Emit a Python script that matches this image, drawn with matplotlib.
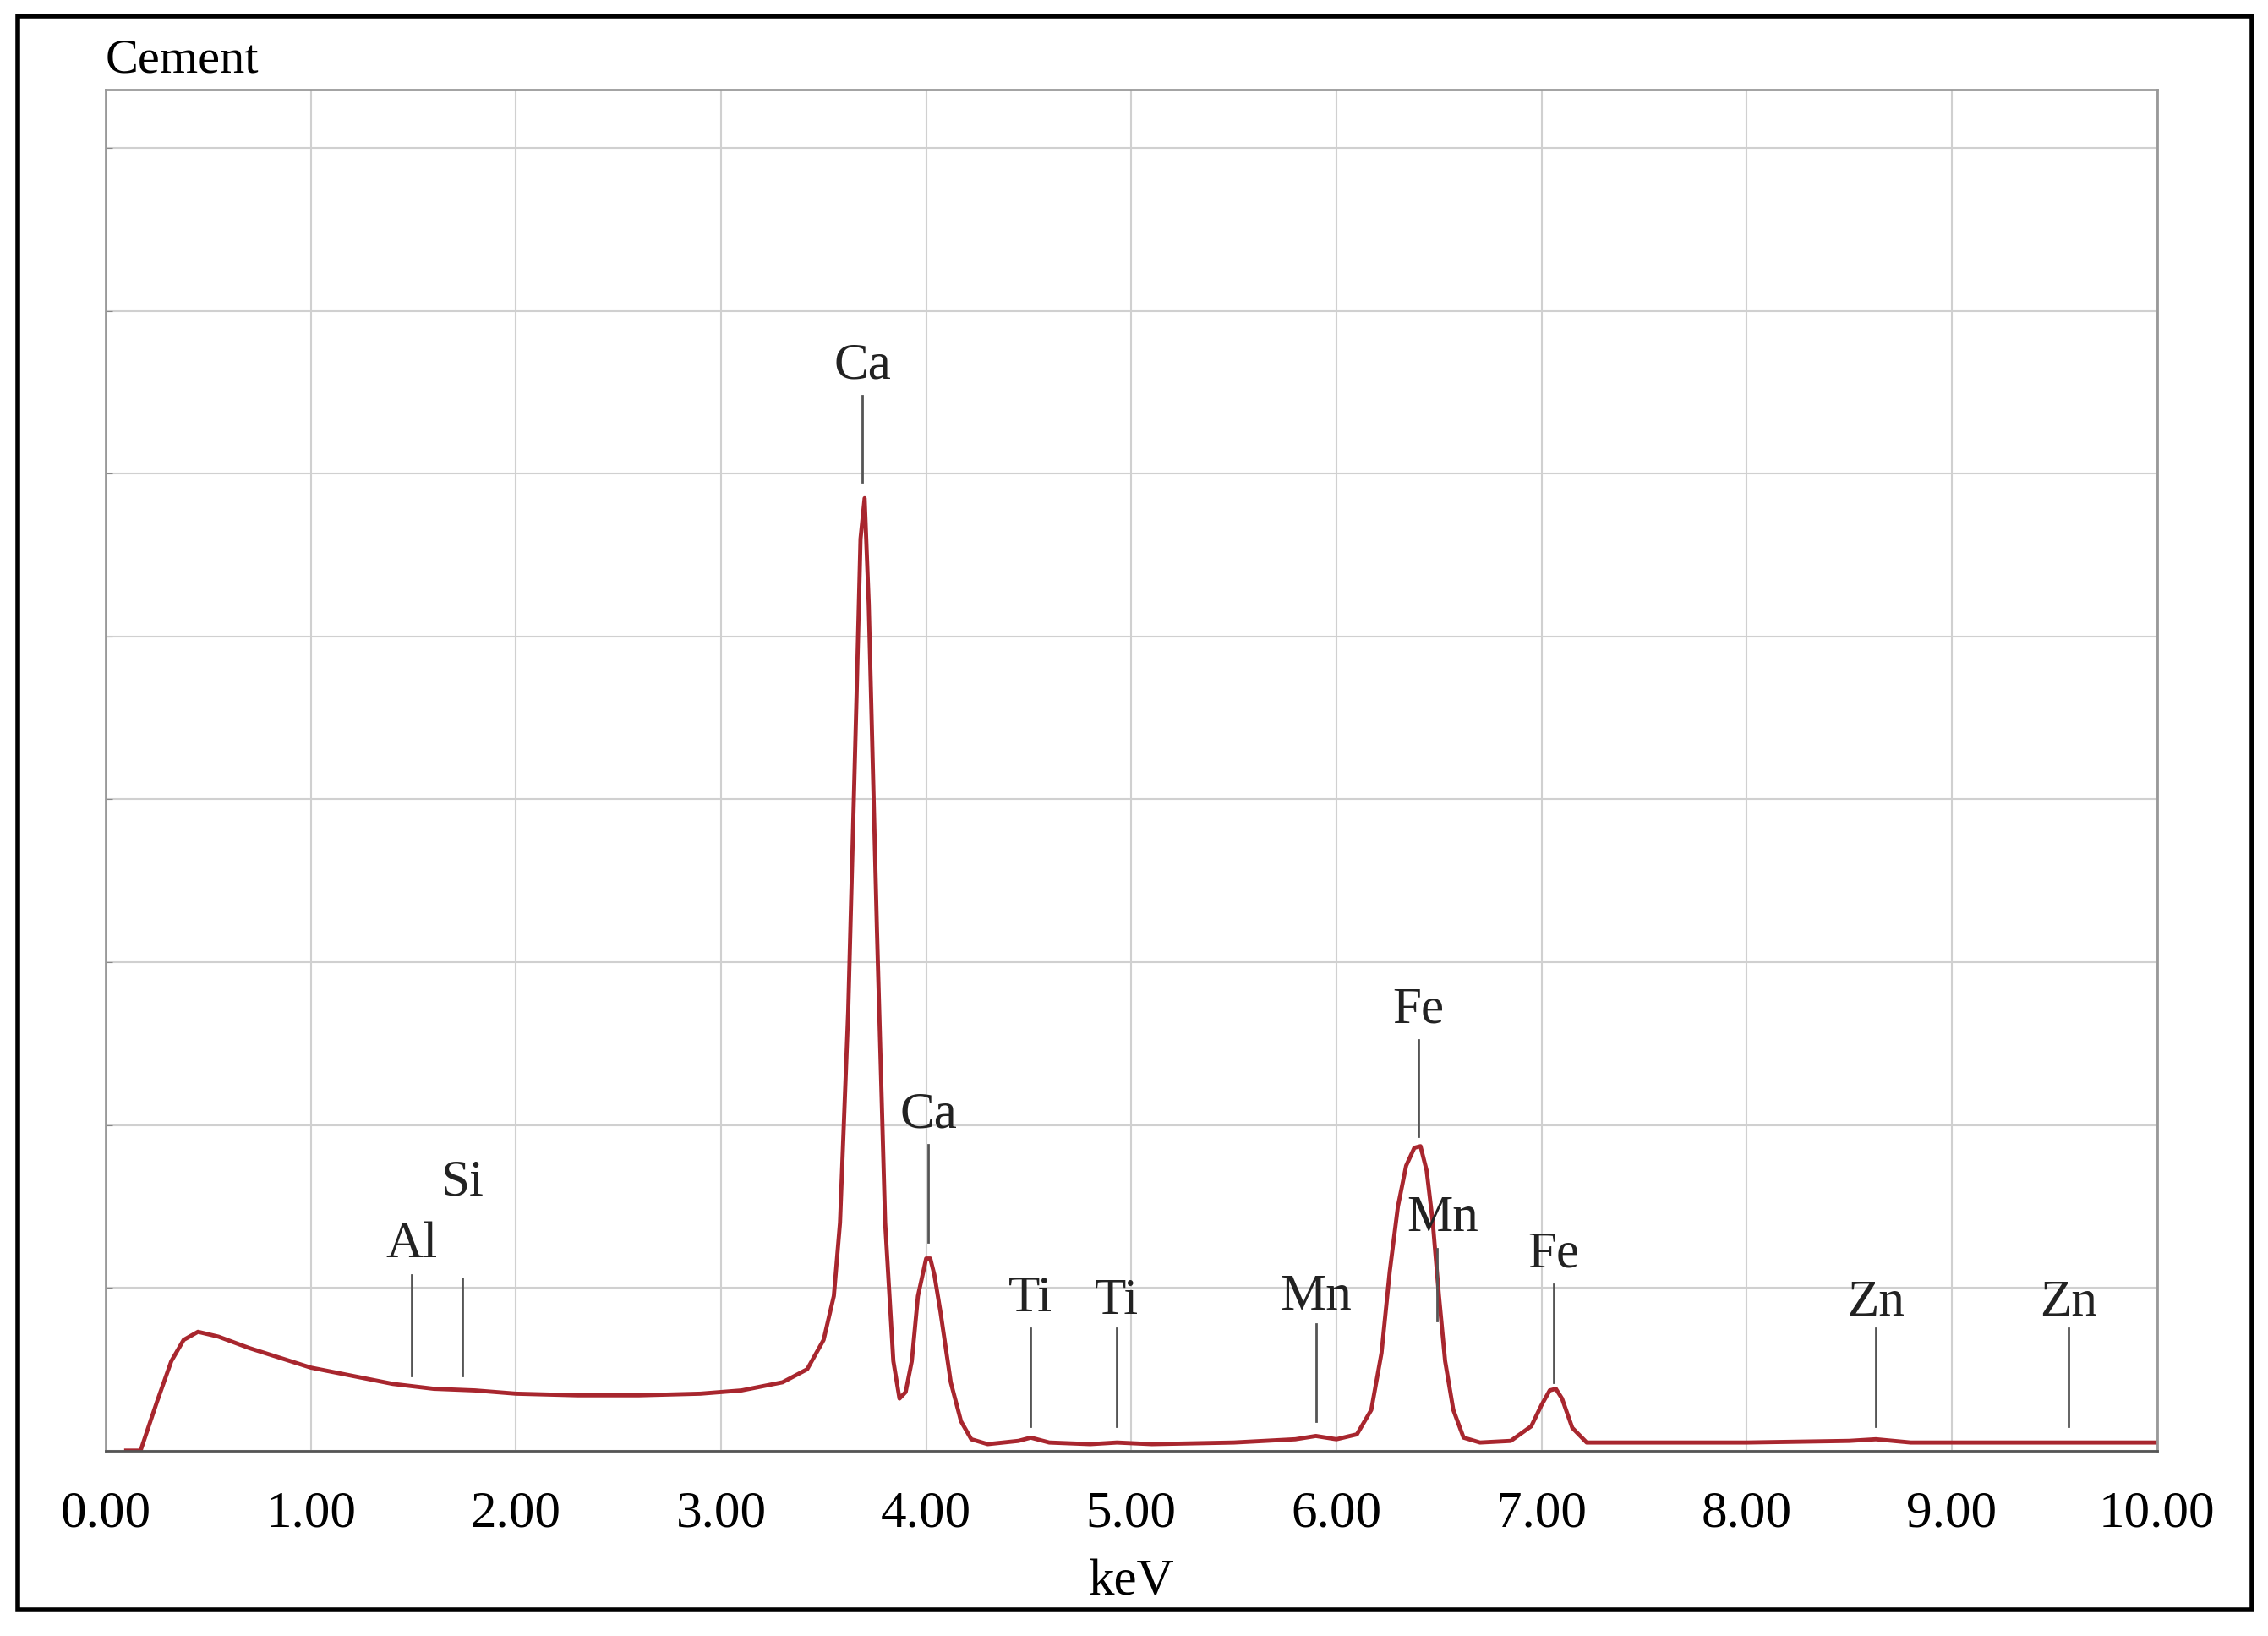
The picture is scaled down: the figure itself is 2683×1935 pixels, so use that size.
import matplotlib.pyplot as plt
from matplotlib.patches import Rectangle

# spectrum (keV, counts in grid units)
energy = [0.10, 0.17, 0.25, 0.32, 0.38, 0.45, 0.55, 0.70, 0.85, 1.00, 1.20, 1.40, 1.60, 1.80,
          2.00, 2.30, 2.60, 2.90, 3.10, 3.30, 3.42, 3.50, 3.55, 3.58, 3.62, 3.66, 3.68, 3.70,
          3.72, 3.76, 3.80, 3.84, 3.87, 3.90, 3.93, 3.96, 4.00, 4.02, 4.04, 4.07, 4.12, 4.17,
          4.22, 4.30, 4.45, 4.51, 4.60, 4.80, 4.93, 5.10, 5.50, 5.80, 5.90, 6.00, 6.10, 6.17,
          6.22, 6.26, 6.30, 6.34, 6.38, 6.41, 6.44, 6.47, 6.50, 6.53, 6.57, 6.62, 6.70, 6.85,
          6.95, 7.00, 7.04, 7.07, 7.10, 7.15, 7.22, 7.50, 8.00, 8.50, 8.63, 8.80, 9.50, 10.00]
counts = [0.0, 0.0, 0.30, 0.55, 0.68, 0.73, 0.70, 0.63, 0.57, 0.51, 0.46, 0.41, 0.38, 0.37,
          0.35, 0.34, 0.34, 0.35, 0.37, 0.42, 0.50, 0.68, 0.95, 1.4, 2.7, 4.6, 5.6, 5.85,
          5.2, 3.2, 1.4, 0.55, 0.32, 0.36, 0.55, 0.95, 1.18, 1.18, 1.08, 0.85, 0.42, 0.18,
          0.07, 0.04, 0.06, 0.08, 0.05, 0.04, 0.05, 0.04, 0.05, 0.07, 0.09, 0.07, 0.10, 0.25,
          0.6, 1.1, 1.5, 1.75, 1.86, 1.87, 1.72, 1.4, 0.95, 0.55, 0.25, 0.08, 0.05, 0.06,
          0.15, 0.28, 0.37, 0.38, 0.32, 0.14, 0.05, 0.05, 0.05, 0.06, 0.07, 0.05, 0.05, 0.05]

# element markers: name, keV, marker line bottom, marker line top, label y
elements = ["Al", "Si", "Ca", "Ca", "Ti", "Ti", "Mn", "Fe", "Mn", "Fe", "Zn", "Zn"]
element_kev = [1.49, 1.74, 3.69, 4.01, 4.51, 4.93, 5.90, 6.40, 6.49, 7.06, 8.63, 9.57]
line_lo = [0.46, 0.46, 5.95, 1.28, 0.15, 0.15, 0.18, 1.93, 0.80, 0.42, 0.15, 0.15]
line_hi = [1.08, 1.06, 6.48, 1.88, 0.75, 0.75, 0.78, 2.52, 1.24, 1.02, 0.75, 0.75]
label_y = [1.12, 1.50, 6.52, 1.92, 0.79, 0.77, 0.80, 2.56, 1.28, 1.06, 0.76, 0.76]
label_dx = [0, 0, 0, 0, 0, 0, 0, 0, 0.03, 0, 0, 0]

xticks = [i * 1.0 for i in range(11)]

plt.rcParams['font.family'] = ['Liberation Serif', 'DejaVu Serif']

fig = plt.figure(figsize=(26.83, 19.35), dpi=100)
fig.patches.append(Rectangle((0.008, 0.016), 0.985, 0.974, transform=fig.transFigure,
                             fill=False, edgecolor='black', linewidth=4))
ax = fig.add_axes([0.0466, 0.1133, 0.9044, 0.832])

ax.plot(energy, counts, color='#a8262e', linewidth=3.5)

for name, k, lo, hi, ly, dx in zip(elements, element_kev, line_lo, line_hi, label_y, label_dx):
    ax.plot([k, k], [lo, hi], color='#555555', linewidth=2)
    ax.text(k + dx, ly, name, ha='center', va='bottom', fontsize=44, color='#222222')

ax.set_xlim(0, 10)
ax.set_ylim(0, 8.36)
ax.set_xticks(xticks)
ax.set_xticklabels([f"{v:.2f}" for v in xticks], fontsize=44)
ax.set_yticks(range(0, 9))
ax.set_yticklabels([])
ax.tick_params(axis='y', direction='in', length=6, color='#888888')
ax.tick_params(axis='x', length=0, pad=34)
ax.grid(True, color='#d0d0d0', linewidth=1.5)
for s in ax.spines.values():
    s.set_color('#999999')
    s.set_linewidth(2)
ax.spines['bottom'].set_color('#555555')
ax.set_xlabel("keV", fontsize=44, labelpad=18)
ax.text(0.0, 1.005, "Cement", transform=ax.transAxes, fontsize=42, ha='left', va='bottom')

fig.savefig("out.png", dpi=100)
